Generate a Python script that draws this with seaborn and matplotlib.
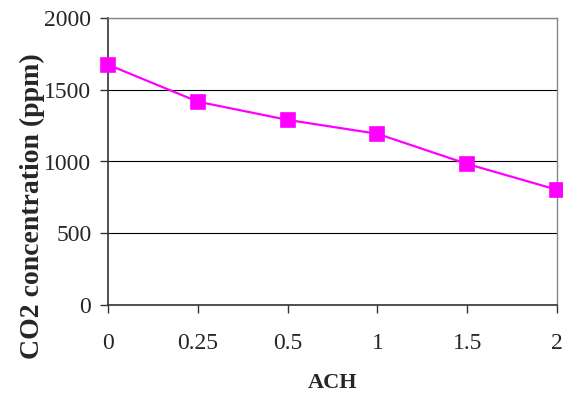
import matplotlib
matplotlib.use("Agg")
import matplotlib.pyplot as plt
import seaborn as sns

ach_labels = ["0", "0.25", "0.5", "1", "1.5", "2"]
co2_ppm = [1675, 1417, 1290, 1193, 983, 803]
y_ticks = [0, 500, 1000, 1500, 2000]

sns.set_style("white")
plt.rcParams['font.family'] = ['Liberation Serif', 'DejaVu Serif']

fig = plt.figure(figsize=(5.63, 4.01), dpi=100)
ax = fig.add_axes([108 / 563, 1 - 305 / 401, 449 / 563, 287 / 401])

sns.pointplot(x=ach_labels, y=co2_ppm, order=ach_labels, color="#FF00FF",
              markers="s", markersize=10, linewidth=1.6, ax=ax, zorder=3)
for ln in ax.lines:
    ln.set_clip_on(False)

ax.set_xlim(0, len(ach_labels) - 1)
ax.set_ylim(0, 2000)
ax.set_yticks(y_ticks)
ax.yaxis.grid(True, color="black", linewidth=0.8)
ax.set_axisbelow(True)

for side in ["top", "right"]:
    ax.spines[side].set_color("#888888")
    ax.spines[side].set_linewidth(1.0)
for side in ["left", "bottom"]:
    ax.spines[side].set_color("#333333")
    ax.spines[side].set_linewidth(1.2)

ax.tick_params(axis="both", which="both", direction="out", length=6, width=1,
               color="#333333", labelsize=17, bottom=True, left=True)
ax.tick_params(axis="x", pad=14)
ax.tick_params(axis="y", pad=6)

ax.set_xlabel("ACH", fontsize=16, fontweight="bold", labelpad=14)
ax.set_ylabel("CO2 concentration (ppm)", fontsize=20, fontweight="bold")
ax.yaxis.set_label_coords(-0.14, 0.345)

fig.savefig("out.png", dpi=100, facecolor="white")
